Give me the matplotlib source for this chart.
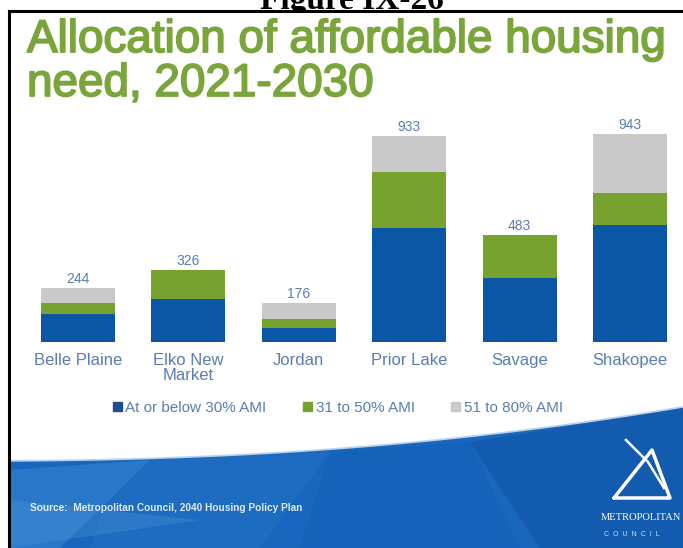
import matplotlib
matplotlib.use("Agg")
import matplotlib.pyplot as plt
import matplotlib.patheffects as pe
from matplotlib.patches import Polygon, Rectangle, Patch
import numpy as np

plt.rcParams['font.family'] = ['Liberation Sans', 'DejaVu Sans']

# housing need by city, split by income band
cities = ["Belle Plaine", "Elko New\nMarket", "Jordan", "Prior Lake", "Savage", "Shakopee"]
below_30 = [125, 193, 61, 515, 288, 529]
ami_31_50 = [50, 133, 41, 254, 195, 145]
ami_51_80 = [69, 0, 74, 164, 0, 269]
series_names = ["At or below 30% AMI", "31 to 50% AMI", "51 to 80% AMI"]

BLUE = "#0b57a6"
GREEN = "#78a22f"
GRAY = "#c9c9c9"
TITLE_GREEN = "#7aa53a"
LABEL_BLUE = "#5a7db4"

W, H = 683, 548
fig = plt.figure(figsize=(W / 100, H / 100), dpi=100, facecolor="white")

# slide background, drawn in pixel coordinates
bg = fig.add_axes([0, 0, 1, 1])
bg.set_xlim(0, W)
bg.set_ylim(H, 0)
bg.axis("off")

bg.text(352, 8.5, "Figure IX-26", family="Liberation Serif", weight="bold",
        fontsize=24, ha="center", va="baseline", color="black", zorder=1)
bg.add_patch(Rectangle((9, 11), W, H, facecolor="white", edgecolor="none", zorder=2))

# blue band along the bottom of the slide
xs = np.linspace(9, W, 60)
top = 460 - 4 * ((xs - 9) / (W - 9)) - 50 * ((xs - 9) / (W - 9)) ** 2.2
band = np.vstack([np.column_stack([xs, top]), [[W, H], [9, H]]])
bg.add_patch(Polygon(band, closed=True, facecolor="#1866bd", edgecolor="none", zorder=3))
facets = [
    ([(9, 470), (150, 460), (60, 548), (9, 548)], "#3f8cd8", 0.45),
    ([(120, 462), (330, 452), (260, 548), (90, 548)], "#2a7acb", 0.35),
    ([(330, 452), (470, 442), (520, 548), (300, 548)], "#0f5cb2", 0.35),
    ([(470, 442), (W, 408), (W, 548), (540, 548)], "#0c4fa0", 0.45),
    ([(9, 500), (200, 520), (9, 548)], "#5aa0e0", 0.25),
]
for pts, c, a in facets:
    bg.add_patch(Polygon(pts, closed=True, facecolor=c, alpha=a, edgecolor="none", zorder=4))
bg.plot(xs, top, color="white", lw=2.5, alpha=0.7, zorder=5)

bg.text(30, 508, "Source:  Metropolitan Council, 2040 Housing Policy Plan", color="white",
        fontsize=7.3, weight="bold", ha="left", va="center", alpha=0.85, zorder=6)

# council logo
logo = dict(color="white", lw=2.5, solid_capstyle="round", zorder=6)
bg.plot([614, 652, 670, 614], [498, 450, 498, 498], **logo)
bg.plot([626, 648, 664], [440, 462, 488], color="white", lw=1.8, zorder=6)
bg.text(601, 518, "METROPOLITAN", color="white", fontsize=7.6, family="Liberation Serif",
        ha="left", va="center", zorder=6)
bg.text(604, 534, "C  O  U  N  C  I  L", color="#cfe0f5", fontsize=5, ha="left",
        va="center", zorder=6)

# slide frame
bg.plot([9, 9], [11, H], color="black", lw=2.2, zorder=7)
bg.plot([9, W], [11, 11], color="black", lw=2.2, zorder=7)

title = bg.text(27, 18, "Allocation of affordable housing\nneed, 2021-2030", color=TITLE_GREEN,
                fontsize=33, ha="left", va="top", linespacing=1.0, zorder=6)
title.set_path_effects([pe.withStroke(linewidth=1.3, foreground=TITLE_GREEN)])

# stacked bar chart
ax = fig.add_axes([22.8 / W, (H - 341.5) / H, 662.4 / W, 220.3 / H])
ax.set_zorder(8)
ax.patch.set_alpha(0)
x = np.arange(len(cities))
b1 = np.array(below_30)
b2 = np.array(ami_31_50)
b3 = np.array(ami_51_80)
ax.bar(x, b1, width=0.67, color=BLUE, label=series_names[0])
ax.bar(x, b2, width=0.67, bottom=b1, color=GREEN, label=series_names[1])
ax.bar(x, b3, width=0.67, bottom=b1 + b2, color=GRAY, label=series_names[2])
totals = b1 + b2 + b3
for xi, t in zip(x, totals):
    ax.annotate(str(t), (xi, t), xytext=(0, 1.5), textcoords="offset points",
                ha="center", va="bottom", color=LABEL_BLUE, fontsize=10)

ax.set_xlim(-0.5, 5.5)
ax.set_ylim(0, 1000)
ax.set_yticks([])
ax.set_xticks(x)
ax.set_xticklabels(cities, color=LABEL_BLUE, fontsize=12, linespacing=1.05)
ax.tick_params(axis="x", length=0, pad=8)
for s in ax.spines.values():
    s.set_visible(False)

handles = [Patch(color="#1f4e8c"), Patch(color=GREEN), Patch(color=GRAY)]
leg = ax.legend(handles, series_names, ncol=3, frameon=False, fontsize=11,
                loc="center", bbox_to_anchor=(338 / W, (H - 408) / H),
                bbox_transform=fig.transFigure,
                handlelength=0.55, handleheight=0.55, handletextpad=0.25, columnspacing=2.4)
for t in leg.get_texts():
    t.set_color(LABEL_BLUE)

fig.savefig("out.png", dpi=100, facecolor="white")
